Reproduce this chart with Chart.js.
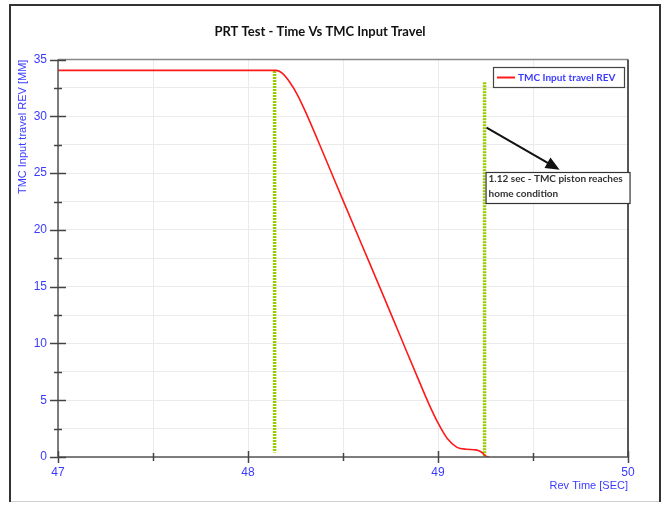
<!DOCTYPE html>
<html>
<head>
<meta charset="utf-8">
<script src="https://cdn.jsdelivr.net/npm/chart.js@4"></script>
<style>
  body { margin: 0; background: #fff; }
  #wrap { width: 665px; height: 505px; }
</style>
</head>
<body>
<div id="wrap"><canvas id="chartTravel"></canvas></div>
<script>
const revTime = [47, 47.5, 48, 48.15, 48.18, 48.22, 48.26, 48.3, 48.4, 48.5, 48.6, 48.7, 48.8, 48.9, 48.95, 49.0, 49.05, 49.1, 49.15, 49.2, 49.23, 49.25, 49.27];
const inputTravel = [34.05, 34.05, 34.05, 34.05, 33.8, 33.0, 31.9, 30.5, 26.6, 22.6, 18.65, 14.7, 10.7, 6.7, 4.75, 3.0, 1.6, 0.85, 0.68, 0.63, 0.42, 0.08, 0];
const markerTimes = [48.14, 49.245];
const markerTop = [34, 33];
const markerBottom = [0.4, 0];
const xTicks = [47, 48, 49, 50];
const yTicks = [0, 5, 10, 15, 20, 25, 30, 35];
const noteLines = ['1.12 sec - TMC piston reaches', 'home condition'];

const blue = '#3b3bff';

const extras = {
    id: 'extras',
    beforeDraw(chart) {
        const c = chart.ctx;
        c.save();
        // outer frame
        c.strokeStyle = '#d0d0d0';
        c.lineWidth = 1;
        c.beginPath(); c.moveTo(10, 501.5); c.lineTo(660, 501.5); c.stroke();
        c.strokeStyle = '#333';
        c.lineWidth = 2;
        c.beginPath(); c.moveTo(10, 502); c.lineTo(10, 5); c.lineTo(660, 5); c.lineTo(660, 502); c.stroke();
        c.restore();
    },
    afterDraw(chart) {
        const c = chart.ctx;
        const x = chart.scales.x, y = chart.scales.y;
        const a = chart.chartArea;
        c.save();
        // plot borders
        c.lineWidth = 1.5;
        c.strokeStyle = '#888';
        c.beginPath(); c.moveTo(a.left, a.top); c.lineTo(a.right, a.top); c.stroke();
        c.strokeStyle = '#222';
        c.beginPath(); c.moveTo(a.right, a.top); c.lineTo(a.right, a.bottom); c.stroke();
        c.strokeStyle = '#555';
        c.beginPath(); c.moveTo(a.left, a.top); c.lineTo(a.left, a.bottom); c.lineTo(a.right, a.bottom); c.stroke();
        // tick marks crossing the axes
        c.lineWidth = 1.5;
        c.strokeStyle = '#444';
        for (let v = 0; v <= 35; v += 2.5) {
            const py = Math.round(y.getPixelForValue(v)) + 0.5;
            const major = v % 5 === 0;
            c.beginPath();
            c.moveTo(a.left - (major ? 8 : 4), py);
            c.lineTo(a.left + (major ? 8 : 4), py);
            c.stroke();
        }
        for (let v = 47; v <= 50; v += 0.5) {
            const px = Math.round(x.getPixelForValue(v)) + 0.5;
            const major = v % 1 === 0;
            c.beginPath();
            c.moveTo(px, a.bottom - (major ? 6 : 4));
            c.lineTo(px, a.bottom + (major ? 6 : 4));
            c.stroke();
        }
        // legend
        const lx = 493, ly = 67;
        c.fillStyle = '#fff';
        c.fillRect(lx, ly, 131, 20);
        c.strokeStyle = '#444';
        c.lineWidth = 1.2;
        c.strokeRect(lx + 0.5, ly + 0.5, 131, 20);
        c.strokeStyle = '#ff1a1a';
        c.lineWidth = 2;
        c.beginPath(); c.moveTo(lx + 4, ly + 10.5); c.lineTo(lx + 22, ly + 10.5); c.stroke();
        c.fillStyle = blue;
        c.font = 'bold 10px Lato';
        c.textBaseline = 'middle';
        c.fillText(chart.data.datasets[0].label, lx + 25, ly + 10.5);
        // arrow
        const x0 = x.getPixelForValue(markerTimes[1]) + 2, y0 = y.getPixelForValue(29);
        const x1 = x.getPixelForValue(49.64), y1 = y.getPixelForValue(25.3);
        c.strokeStyle = '#111';
        c.fillStyle = '#111';
        c.lineWidth = 2;
        c.beginPath(); c.moveTo(x0, y0); c.lineTo(x1 - 8, y1 - 4.5); c.stroke();
        const ang = Math.atan2(y1 - y0, x1 - x0);
        c.beginPath();
        c.moveTo(x1, y1);
        c.lineTo(x1 - 14 * Math.cos(ang) + 6 * Math.sin(ang), y1 - 14 * Math.sin(ang) - 6 * Math.cos(ang));
        c.lineTo(x1 - 14 * Math.cos(ang) - 6 * Math.sin(ang), y1 - 14 * Math.sin(ang) + 6 * Math.cos(ang));
        c.closePath();
        c.fill();
        // note box
        const bx = x.getPixelForValue(markerTimes[1]) + 1, by = 172;
        c.fillStyle = '#fff';
        c.fillRect(bx, by, 144, 31);
        c.strokeStyle = '#333';
        c.lineWidth = 1.2;
        c.strokeRect(bx + 0.5, by + 0.5, 144, 31);
        c.fillStyle = '#333';
        c.font = 'bold 10px Lato';
        c.textBaseline = 'middle';
        c.fillText(noteLines[0], bx + 3, by + 7);
        c.fillText(noteLines[1], bx + 3, by + 22);
        c.restore();
    }
};

new Chart(document.getElementById('chartTravel'), {
    type: 'line',
    data: {
        datasets: [{
            label: 'TMC Input travel REV',
            data: revTime.map((t, i) => ({ x: t, y: inputTravel[i] })),
            borderColor: '#ff1a1a',
            borderWidth: 1.6,
            pointRadius: 0,
            cubicInterpolationMode: 'monotone'
        }].concat(markerTimes.map((t, i) => ({
            label: 'marker' + i,
            data: [{ x: t, y: markerTop[i] }, { x: t, y: markerBottom[i] }],
            borderColor: '#99cc00',
            borderWidth: 3.5,
            borderDash: [2, 1],
            pointRadius: 0
        })))
    },
    options: {
        responsive: true,
        maintainAspectRatio: false,
        animation: false,
        layout: { padding: { left: 12, right: 37, top: 0, bottom: 8 } },
        plugins: {
            legend: { display: false },
            tooltip: { enabled: false },
            title: {
                display: true,
                text: 'PRT Test - Time Vs TMC Input Travel',
                color: '#111',
                font: { family: 'Lato', size: 13, weight: 'bold' },
                padding: { top: 24, bottom: 20 }
            }
        },
        scales: {
            x: {
                type: 'linear',
                min: 47,
                max: 50,
                afterFit: s => { s.height = 40; },
                afterBuildTicks: s => { s.ticks = []; for (let v = 47; v <= 50; v += 0.5) s.ticks.push({ value: v }); },
                grid: { color: '#ebebeb', drawTicks: false },
                border: { display: false },
                ticks: {
                    color: blue,
                    padding: 8,
                    maxRotation: 0,
                    autoSkip: false,
                    font: { family: 'Liberation Sans', size: 12 },
                    callback: v => xTicks.includes(v) ? String(v) : ''
                },
                title: {
                    display: true,
                    text: 'Rev Time [SEC]',
                    align: 'end',
                    color: blue,
                    font: { family: 'Liberation Sans', size: 11 },
                    padding: { top: 0, bottom: 4 }
                }
            },
            y: {
                min: 0,
                max: 35,
                afterFit: s => { s.width = 46; },
                afterBuildTicks: s => { s.ticks = []; for (let v = 0; v <= 35; v += 2.5) s.ticks.push({ value: v }); },
                grid: { color: '#ebebeb', drawTicks: false },
                border: { display: false },
                ticks: {
                    color: blue,
                    padding: 11,
                    autoSkip: false,
                    font: { family: 'Liberation Sans', size: 12 },
                    callback: v => yTicks.includes(v) ? String(v) : ''
                },
                title: {
                    display: true,
                    text: 'TMC Input travel REV [MM]',
                    align: 'end',
                    color: blue,
                    font: { family: 'Liberation Sans', size: 11 },
                    padding: { top: 4, bottom: 0 }
                }
            }
        }
    },
    plugins: [extras]
});
</script>
</body>
</html>
